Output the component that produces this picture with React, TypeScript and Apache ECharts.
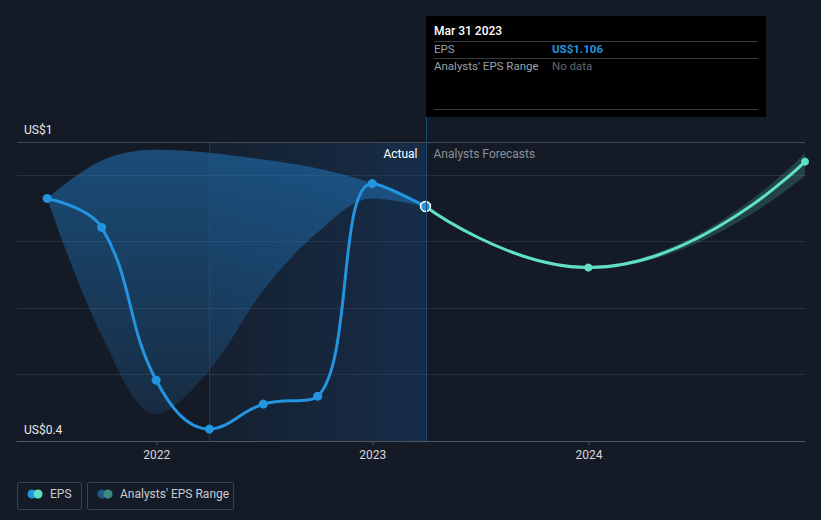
import React, { useEffect, useRef } from "react";
import * as echarts from "echarts";

const epsDates = ["2021-06-30", "2021-09-30", "2021-12-31", "2022-03-31", "2022-06-30", "2022-09-30", "2022-12-31", "2023-03-31"];
const epsValues = [1.13, 1.043, 0.583, 0.436, 0.511, 0.535, 1.175, 1.106];

const rangeDates = ["2021-06-30", "2021-09-30", "2021-12-31", "2022-03-31", "2022-06-30", "2022-09-30", "2022-12-31", "2023-03-31"];
const rangeLow = [1.13, 0.718, 0.481, 0.613, 0.853, 1.028, 1.13, 1.106];
const rangeHigh = [1.13, 1.244, 1.277, 1.268, 1.247, 1.22, 1.175, 1.106];

const forecastDates = ["2023-03-31", "2023-12-31", "2024-12-31"];
const forecastValues = [1.106, 0.922, 1.241];
const forecastLow = [1.106, 0.917, 1.199];
const forecastHigh = [1.106, 0.927, 1.268];

const xTickLabels = ["2022", "2023", "2024"];
const yTopLabel = "US$1";
const yBottomLabel = "US$0.4";
const tooltipDate = "Mar 31 2023";
const tooltipEps = "US$1.106";

const BG = "#151b26";
const EPS_BLUE = "#2394df";
const FORE = "#5fe0c7";
const FONT = "Roboto, 'Noto Sans', sans-serif";

export default function App() {
  const ref = useRef<HTMLDivElement>(null);
  useEffect(() => {
    document.body.style.margin = "0";
    const chart = echarts.init(ref.current!, undefined, { renderer: "svg" });
    const t = (d: string) => new Date(d + "T00:00:00Z").getTime();
    const option: any = {
      animation: false,
      backgroundColor: BG,
      grid: { left: 17, right: 16, top: 142, bottom: 79, containLabel: false },
      xAxis: {
        type: "time",
        min: t("2021-05-10"),
        max: t("2024-12-31"),
        axisLine: { show: true, lineStyle: { color: "#50555e", width: 1 } },
        axisTick: { show: false },
        axisLabel: { show: false },
        splitLine: { show: false },
      },
      yAxis: {
        type: "value",
        min: 0.4,
        max: 1.3,
        interval: 0.2,
        axisLine: { show: false },
        axisTick: { show: false },
        axisLabel: { show: false },
        splitLine: { show: true, lineStyle: { color: "#2a303b", width: 1 } },
      },
      series: [
        {
          name: "rangeLow",
          type: "line",
          stack: "range",
          smooth: 0.35,
          symbol: "none",
          lineStyle: { opacity: 0 },
          data: rangeDates.map((d, i) => [t(d), rangeLow[i]]),
          markArea: {
            silent: true,
            itemStyle: {
              color: new echarts.graphic.LinearGradient(0, 0, 1, 0, [
                { offset: 0, color: "rgba(25,70,120,0.12)" },
                { offset: 1, color: "rgba(25,80,140,0.35)" },
              ]),
            },
            data: [[{ xAxis: t("2022-03-31") }, { xAxis: t("2023-03-31") }]],
          },
          markLine: {
            silent: true,
            symbol: "none",
            label: { show: false },
            lineStyle: { color: "rgba(40,90,140,0.45)", type: "solid", width: 1 },
            data: [{ xAxis: t("2022-03-31") }],
          },
          z: 2,
        },
        {
          name: "rangeHigh",
          type: "line",
          stack: "range",
          smooth: 0.35,
          symbol: "none",
          lineStyle: { opacity: 0 },
          areaStyle: {
            color: new echarts.graphic.LinearGradient(0, 0, 0, 1, [
              { offset: 0, color: "rgba(32,125,200,0.72)" },
              { offset: 1, color: "rgba(32,125,200,0.24)" },
            ]),
          },
          data: rangeDates.map((d, i) => [t(d), rangeHigh[i] - rangeLow[i]]),
          z: 3,
        },
        {
          name: "foreLow",
          type: "line",
          stack: "fore",
          smooth: true,
          symbol: "none",
          lineStyle: { opacity: 0 },
          data: forecastDates.map((d, i) => [t(d), forecastLow[i]]),
          z: 2,
        },
        {
          name: "foreHigh",
          type: "line",
          stack: "fore",
          smooth: true,
          symbol: "none",
          lineStyle: { opacity: 0 },
          areaStyle: { color: "rgba(88,212,190,0.3)" },
          data: forecastDates.map((d, i) => [t(d), forecastHigh[i] - forecastLow[i]]),
          z: 3,
        },
        {
          name: "Forecast",
          type: "line",
          smooth: true,
          symbol: "circle",
          showSymbol: true,
          itemStyle: { color: FORE },
          lineStyle: { color: FORE, width: 3 },
          data: forecastDates.map((d, i) => ({
            value: [t(d), forecastValues[i]],
            symbolSize: i === 0 ? 0 : 8,
          })),
          clip: false,
          z: 5,
        },
        {
          name: "EPS",
          type: "line",
          smooth: 0.4,
          symbol: "circle",
          symbolSize: 9,
          itemStyle: { color: EPS_BLUE },
          lineStyle: { color: EPS_BLUE, width: 3 },
          data: epsDates.map((d, i) => {
            const last = i === epsDates.length - 1;
            return {
              value: [t(d), epsValues[i]],
              symbolSize: last ? 10 : 9,
              itemStyle: last ? { color: EPS_BLUE, borderColor: "#ffffff", borderWidth: 1.5 } : undefined,
            };
          }),
          z: 6,
        },
      ],
    };
    chart.setOption(option);

    const px = (d: string, v: number) => chart.convertToPixel({ gridIndex: 0 }, [t(d), v]) as number[];
    const top = px("2023-03-31", 1.3)[1];
    const bottom = px("2023-03-31", 0.4)[1];
    const divX = Math.round(px("2023-03-31", 1)[0]) + 0.5;
    const left = px("2021-05-10", 1)[0];
    const right = px("2024-12-31", 1)[0];
    const xLabelY = bottom + 14;

    const gray = "#9aa0a8";
    const graphic: any[] = [
      { type: "line", shape: { x1: left, y1: top + 0.5, x2: right, y2: top + 0.5 }, style: { stroke: "#444953", lineWidth: 1 }, z: 10 },
      { type: "line", shape: { x1: divX, y1: 117, x2: divX, y2: bottom }, style: { stroke: "#1f4c73", lineWidth: 1 }, z: 10 },
      { type: "text", x: 24, y: top - 12, style: { text: yTopLabel, fill: "#e6e8eb", font: `12px ${FONT}`, verticalAlign: "middle" }, z: 10 },
      { type: "text", x: 24, y: bottom - 11, style: { text: yBottomLabel, fill: "#e6e8eb", font: `12px ${FONT}`, verticalAlign: "middle" }, z: 10 },
      { type: "text", x: divX - 9, y: top + 12, style: { text: "Actual", fill: "#ffffff", font: `12px ${FONT}`, align: "right", verticalAlign: "middle" }, z: 10 },
      { type: "text", x: divX + 7, y: top + 12, style: { text: "Analysts Forecasts", fill: "#8a8f97", font: `12px ${FONT}`, align: "left", verticalAlign: "middle" }, z: 10 },
    ];
    ["2022-01-01", "2023-01-01", "2024-01-01"].forEach((d, i) => {
      const x = px(d, 1)[0];
      graphic.push({ type: "line", shape: { x1: x, y1: bottom, x2: x, y2: bottom + 4 }, style: { stroke: "#50555e", lineWidth: 1 }, z: 10 });
      graphic.push({ type: "text", x, y: xLabelY, style: { text: xTickLabels[i], fill: "#d5d8dc", font: `12px ${FONT}`, align: "center", verticalAlign: "middle" }, z: 10 });
    });
    graphic.push(
      { type: "rect", shape: { x: 426, y: 16, width: 340, height: 101 }, style: { fill: "#000000" }, z: 20 },
      { type: "text", x: 434, y: 31, style: { text: tooltipDate, fill: "#ffffff", font: `500 12px ${FONT}`, verticalAlign: "middle" }, z: 21 },
      { type: "line", shape: { x1: 434, y1: 41.5, x2: 758, y2: 41.5 }, style: { stroke: "#3a3d42", lineWidth: 1 }, z: 21 },
      { type: "text", x: 434, y: 49, style: { text: "EPS", fill: gray, font: `11.5px ${FONT}`, verticalAlign: "middle" }, z: 21 },
      { type: "text", x: 552, y: 49, style: { text: tooltipEps, fill: EPS_BLUE, font: `bold 11.5px ${FONT}`, verticalAlign: "middle" }, z: 21 },
      { type: "line", shape: { x1: 434, y1: 58.5, x2: 758, y2: 58.5 }, style: { stroke: "#3a3d42", lineWidth: 1 }, z: 21 },
      { type: "text", x: 434, y: 66, style: { text: "Analysts' EPS Range", fill: gray, font: `11.5px ${FONT}`, verticalAlign: "middle" }, z: 21 },
      { type: "text", x: 552, y: 66, style: { text: "No data", fill: "#62666d", font: `11.5px ${FONT}`, verticalAlign: "middle" }, z: 21 },
      { type: "line", shape: { x1: 434, y1: 109.5, x2: 758, y2: 109.5 }, style: { stroke: "#3a3d42", lineWidth: 1 }, z: 21 }
    );
    graphic.push(
      { type: "rect", shape: { x: 17.5, y: 482.5, width: 64, height: 27, r: 2 }, style: { fill: "transparent", stroke: "#3c414b", lineWidth: 1 }, z: 20 },
      { type: "circle", shape: { cx: 32, cy: 494, r: 4.5 }, style: { fill: EPS_BLUE }, z: 21 },
      { type: "circle", shape: { cx: 38, cy: 494, r: 4.5 }, style: { fill: FORE }, z: 22 },
      { type: "text", x: 50, y: 494, style: { text: "EPS", fill: "#c9ccd1", font: `12px ${FONT}`, verticalAlign: "middle" }, z: 21 },
      { type: "rect", shape: { x: 87.5, y: 482.5, width: 146, height: 27, r: 2 }, style: { fill: "transparent", stroke: "#3c414b", lineWidth: 1 }, z: 20 },
      { type: "circle", shape: { cx: 102, cy: 494, r: 4.5 }, style: { fill: "#1f5a87" }, z: 21 },
      { type: "circle", shape: { cx: 108, cy: 494, r: 4.5 }, style: { fill: "#3d8a80" }, z: 22 },
      { type: "text", x: 120, y: 494, style: { text: "Analysts' EPS Range", fill: "#c9ccd1", font: `12px ${FONT}`, verticalAlign: "middle" }, z: 21 }
    );
    chart.setOption({ graphic });
    return () => chart.dispose();
  }, []);
  return <div ref={ref} style={{ position: "absolute", left: 0, top: 0, width: 821, height: 520 }} />;
}
